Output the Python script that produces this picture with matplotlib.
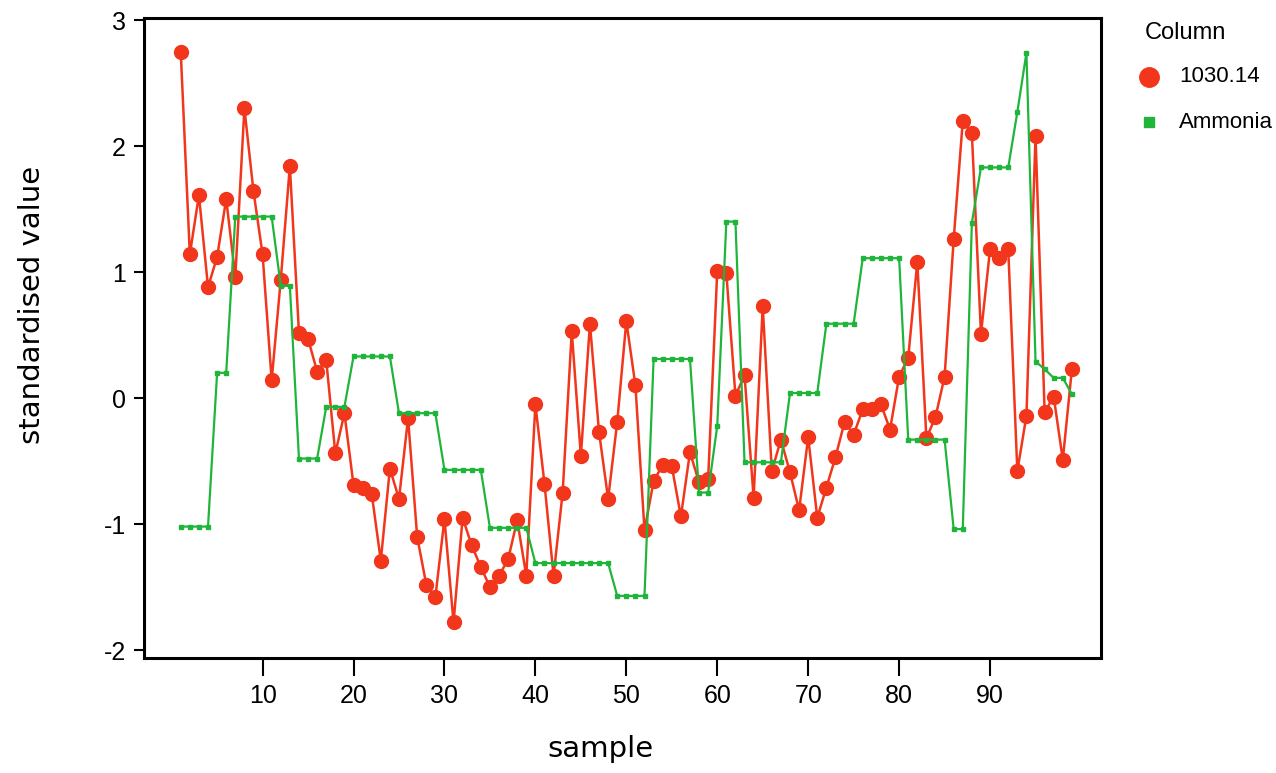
import matplotlib
matplotlib.use("Agg")
import matplotlib.pyplot as plt
from matplotlib.lines import Line2D

# --- data -------------------------------------------------------------
sample = list(range(1, 100))

conductivity_1030 = [
    2.75, 1.14, 1.61, 0.88, 1.12, 1.58, 0.96, 2.30, 1.64, 1.14,
    0.14, 0.94, 1.84, 0.52, 0.47, 0.21, 0.30, -0.44, -0.12, -0.69,
    -0.71, -0.76, -1.29, -0.56, -0.80, -0.16, -1.10, -1.48, -1.58, -0.96,
    -1.78, -0.95, -1.17, -1.34, -1.50, -1.41, -1.28, -0.97, -1.41, -0.05,
    -0.68, -1.41, -0.75, 0.53, -0.46, 0.59, -0.27, -0.80, -0.19, 0.61,
    0.10, -1.05, -0.66, -0.53, -0.54, -0.94, -0.43, -0.67, -0.64, 1.01,
    0.99, 0.02, 0.18, -0.79, 0.73, -0.58, -0.33, -0.59, -0.89, -0.31,
    -0.95, -0.71, -0.47, -0.19, -0.29, -0.09, -0.09, -0.05, -0.25, 0.17,
    0.32, 1.08, -0.32, -0.15, 0.17, 1.26, 2.20, 2.10, 0.51, 1.18,
    1.11, 1.18, -0.58, -0.14, 2.08, -0.11, 0.01, -0.49, 0.23,
]

ammonia = (
    [-1.02] * 4 + [0.20] * 2 + [1.44] * 5 + [0.89] * 2 + [-0.48] * 3
    + [-0.07] * 3 + [0.33] * 5 + [-0.12] * 5 + [-0.57] * 5 + [-1.03] * 5
    + [-1.31] * 9 + [-1.57] * 4 + [0.31] * 5 + [-0.75] * 2 + [-0.22]
    + [1.40] * 2 + [-0.51] * 5 + [0.04] * 4 + [0.59] * 4 + [1.11] * 5
    + [-0.33] * 5 + [-1.04] * 2 + [1.39] + [1.83] * 4 + [2.27]
    + [2.74] + [0.29] + [0.23] + [0.16] * 2 + [0.03]
)

x_ticks = [10, 20, 30, 40, 50, 60, 70, 80, 90]
y_ticks = [-2, -1, 0, 1, 2, 3]
series_names = ["1030.14", "Ammonia"]
legend_title = "Column"

RED = "#f2361c"
GREEN = "#1fb53a"
FONT = "Liberation Sans"

W, H = 1276, 773
fig = plt.figure(figsize=(W / 100, H / 100), dpi=100)
ax = fig.add_axes([144 / W, 1 - 658 / H, (1101 - 144) / W, (658 - 18) / H])

ax.plot(sample, conductivity_1030, color=RED, lw=1.8, marker="o",
        ms=10, mec=RED, mfc=RED, zorder=2)
ax.plot(sample, ammonia, color=GREEN, lw=1.6, marker="s",
        ms=3.5, mec=GREEN, mfc=GREEN, zorder=3)

ax.set_xlim(-3.04, 102.2)
ax.set_ylim(-2.063, 3.016)
ax.set_xticks(x_ticks)
ax.set_yticks(y_ticks)
ax.set_xticklabels([str(t) for t in x_ticks], fontfamily=FONT, fontsize=18)
ax.set_yticklabels([str(t) for t in y_ticks], fontfamily=FONT, fontsize=18)
ax.tick_params(axis="x", direction="out", length=13, width=1.5, pad=6, color="black")
ax.tick_params(axis="y", direction="out", length=7, width=1.5, pad=6, color="black")

for sp in ax.spines.values():
    sp.set_linewidth(2.2)
    sp.set_color("black")

ax.set_xlabel("sample", fontsize=21, fontfamily="DejaVu Sans")
ax.set_ylabel("standardised value", fontsize=21, fontfamily="DejaVu Sans")
ax.xaxis.set_label_coords((600 - 144) / 957, (658 - 735) / 640)
ax.yaxis.set_label_coords((46 - 144) / 957, (658 - 305) / 640)

# legend placed to the right of the plotting area
fig.text(1145 / W, 1 - 33 / H, legend_title, fontfamily=FONT, fontsize=17,
         ha="left", va="center")
handles = [
    dict(marker="o", ms=14, color=RED),
    dict(marker="s", ms=7, color=GREEN),
]
rows_y = [77, 122]
for name, style, y in zip(series_names, handles, rows_y):
    fig.add_artist(Line2D([1149 / W], [1 - y / H], ls="none",
                          transform=fig.transFigure, **style))
    fig.text(1179 / W, 1 - y / H, name, fontfamily=FONT, fontsize=16,
             ha="left", va="center")

fig.savefig("out.png", dpi=100, facecolor="white")
